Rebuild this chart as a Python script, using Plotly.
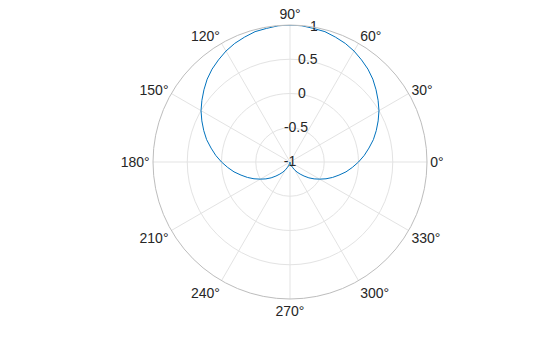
import plotly.graph_objects as go

theta_deg = [0, 5, 10, 15, 20, 25, 30, 35, 40, 45, 50, 55, 60, 65, 70, 75, 80, 85, 90,
             95, 100, 105, 110, 115, 120, 125, 130, 135, 140, 145, 150, 155, 160, 165, 170, 175,
             180, 185, 190, 195, 200, 205, 210, 215, 220, 225, 230, 235, 240, 245, 250, 255,
             260, 265, 270, 275, 280, 285, 290, 295, 300, 305, 310, 315, 320, 325, 330, 335,
             340, 345, 350, 355, 360]
r_vals = [0, 0.087, 0.17, 0.26, 0.34, 0.42, 0.5, 0.57, 0.64, 0.71, 0.77, 0.82, 0.87, 0.91,
          0.94, 0.97, 0.98, 0.996, 1,
          0.996, 0.98, 0.97, 0.94, 0.91, 0.87, 0.82, 0.77, 0.71, 0.64, 0.57, 0.5, 0.42, 0.34,
          0.26, 0.17, 0.087,
          0, -0.087, -0.17, -0.26, -0.34, -0.42, -0.5, -0.57, -0.64, -0.71, -0.77, -0.82,
          -0.87, -0.91, -0.94, -0.97, -0.98, -0.996, -1,
          -0.996, -0.98, -0.97, -0.94, -0.91, -0.87, -0.82, -0.77, -0.71, -0.64, -0.57, -0.5,
          -0.42, -0.34, -0.26, -0.17, -0.087, 0]

r_ticks = [-1, -0.5, 0, 0.5, 1]
r_tick_labels = ["-1", "-0.5", "0", "0.5", "1"]
r_label_angle = [80, 80, 80, 80, 80]
angle_ticks = [0, 30, 60, 90, 120, 150, 180, 210, 240, 270, 300, 330]
angle_labels = ["0°", "30°", "60°", "90°", "120°", "150°", "180°", "210°", "240°",
                "270°", "300°", "330°"]

FONT = "Liberation Sans, Arial, Helvetica, sans-serif"

fig = go.Figure()
fig.add_trace(go.Scatterpolar(
    r=r_vals, theta=theta_deg, mode="lines",
    line=dict(color="#0072BD", width=1), showlegend=False, hoverinfo="skip"))
fig.add_trace(go.Scatterpolar(
    r=r_ticks, theta=r_label_angle, mode="text", text=r_tick_labels,
    textposition="middle center",
    textfont=dict(family=FONT, size=14, color="#262626"),
    showlegend=False, hoverinfo="skip", cliponaxis=False))

fig.update_layout(
    width=560, height=337,
    margin=dict(l=153, r=133, t=25, b=38),
    paper_bgcolor="white",
    font=dict(family=FONT, size=14, color="#262626"),
    polar=dict(
        bgcolor="white",
        domain=dict(x=[0, 1], y=[0, 1]),
        radialaxis=dict(range=[-1, 1], tickvals=r_ticks, showticklabels=False,
                        ticks="", showline=False, gridcolor="#e3e3e3", gridwidth=1,
                        angle=80),
        angularaxis=dict(rotation=0, direction="counterclockwise",
                         tickmode="array", tickvals=angle_ticks, ticktext=angle_labels,
                         ticks="", showline=True, linecolor="#bdbdbd", linewidth=1,
                         gridcolor="#e3e3e3", gridwidth=1,
                         tickfont=dict(family=FONT, size=14, color="#262626")),
    ),
)
fig.write_html("out.html")
